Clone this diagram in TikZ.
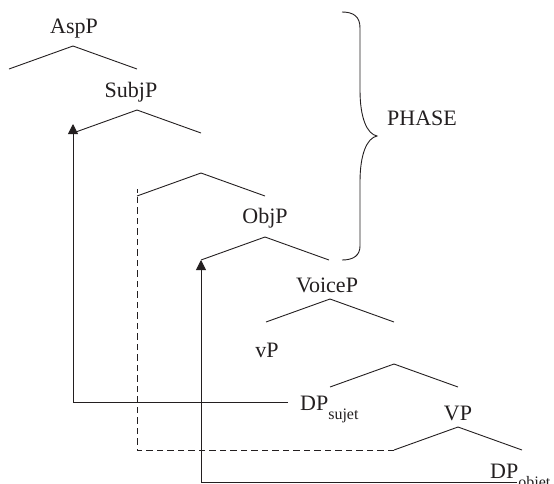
\documentclass[tikz,border=0pt]{standalone}
\usepackage{fontspec}
\setmainfont{Liberation Serif}
\usetikzlibrary{arrows.meta}
\definecolor{ink}{RGB}{35,31,32}

\begin{document}
\begin{tikzpicture}[x=1pt,y=1pt,yscale=-1,
    lbl/.style={anchor=base,inner sep=0pt,text=ink,font=\fontsize{22}{26}\selectfont},
    sub/.style={font=\fontsize{16}{18}\selectfont},
    branch/.style={draw=ink,line width=0.9pt},
    move/.style={draw=ink,line width=0.9pt,-{Triangle[length=10pt,width=10pt]}},
    trace/.style={draw=ink,line width=0.9pt,dash pattern={on 6.5pt off 4pt}}]
\useasboundingbox (0,0) rectangle (554,483);
\node [lbl] (asp) at (74,33) {AspP};
\node [lbl] (subj) at (131,97) {SubjP};
\node [lbl] (obj) at (265,223) {ObjP};
\node [lbl] (voice) at (327,292) {VoiceP};
\node [lbl] (v) at (267,357) {vP};
\node [lbl,anchor=base west] (dpsuj) at (300,410) {DP\raisebox{-9pt}{\fontsize{16}{18}\selectfont sujet}};
\node [lbl] (vp) at (458,420) {VP};
\node [lbl,anchor=base west] (dpobj) at (490,478) {DP\raisebox{-9pt}{\fontsize{16}{18}\selectfont objet}};
\node [lbl,anchor=base west] (phase) at (387,125) {PHASE};
\foreach \n/\x/\y in {asp/73/46,subj/137/110,x/201/173,obj/265/237,voice/330/299,v/394/364,vp/458/427}{
  \coordinate (\n-t) at (\x,\y);
  \coordinate (\n-l) at (\x-64,\y+23);
  \coordinate (\n-r) at (\x+64,\y+23);
  \draw [branch] (\n-l) -- (\n-t) -- (\n-r);
}
\coordinate (suj-end) at (288,402);
\coordinate (obj-end) at (517,482);
\draw [move] (suj-end) -| ([yshift=-9pt]subj-l);
\draw [trace] (vp-l) -| ([yshift=-7pt]x-l);
\draw [move] (obj-end) -| (obj-l);
\draw [ink,line width=0.9pt] (342,12) .. controls (354,12) and (360,17) .. (360,28) -- (360,90) .. controls (360,118) and (367,134) .. (377,136) .. controls (367,138) and (360,154) .. (360,182) -- (360,246) .. controls (360,255) and (354,260) .. (342,260);
\end{tikzpicture}
\end{document}
